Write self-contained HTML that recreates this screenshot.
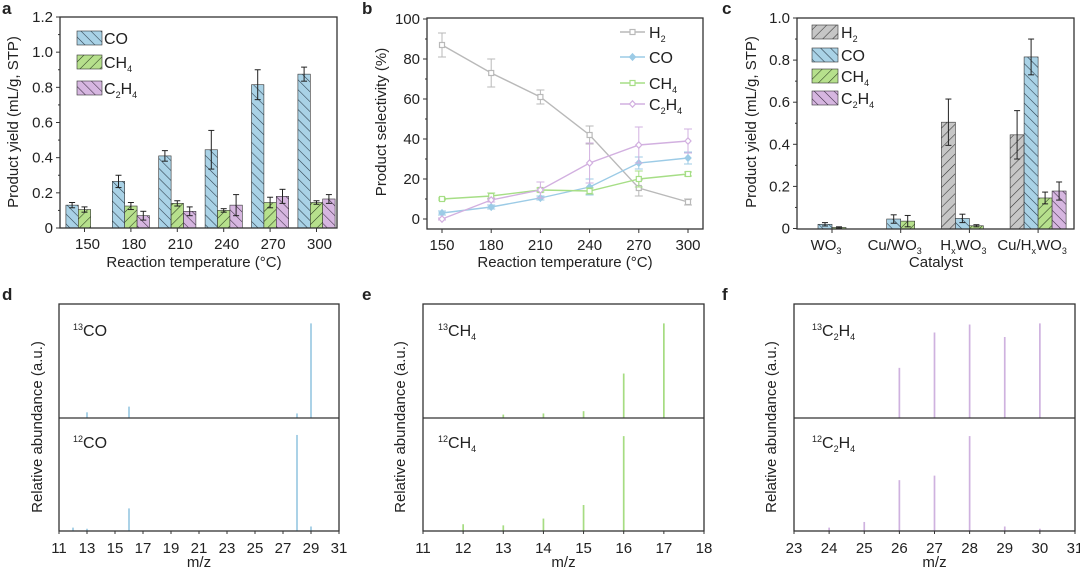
<!DOCTYPE html>
<html><head><meta charset="utf-8">
<style>
html,body{margin:0;padding:0;background:#fff;}
svg{display:block;font-family:"Liberation Sans",Arial,sans-serif;}
text{fill:#222;}
</style></head>
<body>
<svg id="fig" width="1080" height="570" viewBox="0 0 1080 570">
<defs>
<pattern id="hb" width="7" height="7" patternUnits="userSpaceOnUse" patternTransform="rotate(-45)"><rect width="7" height="7" fill="#a9d2e6"/><line x1="0" y1="0" x2="0" y2="7" stroke="#2a3a48" stroke-width="1.1"/></pattern>
<pattern id="hg" width="7" height="7" patternUnits="userSpaceOnUse" patternTransform="rotate(45)"><rect width="7" height="7" fill="#b6e08c"/><line x1="0" y1="0" x2="0" y2="7" stroke="#2a3a20" stroke-width="1.1"/></pattern>
<pattern id="hp" width="7" height="7" patternUnits="userSpaceOnUse" patternTransform="rotate(-45)"><rect width="7" height="7" fill="#d6b6e0"/><line x1="0" y1="0" x2="0" y2="7" stroke="#3a2a40" stroke-width="1.1"/></pattern>
<pattern id="hh" width="7" height="7" patternUnits="userSpaceOnUse" patternTransform="rotate(45)"><rect width="7" height="7" fill="#c6c6c6"/><line x1="0" y1="0" x2="0" y2="7" stroke="#333" stroke-width="1.1"/></pattern>
</defs>
</svg>
<script>
// ---- Panel a data ----
const aCats = ["150","180","210","240","270","300"];
const aCO = [0.13,0.265,0.41,0.445,0.815,0.875];
const aCOerr = [0.015,0.035,0.03,0.11,0.085,0.04];
const aCH4 = [0.105,0.125,0.14,0.1,0.145,0.145];
const aCH4err = [0.015,0.02,0.015,0.01,0.03,0.01];
const aC2H4 = [0,0.07,0.095,0.13,0.18,0.165];
const aC2H4err = [0,0.025,0.025,0.06,0.04,0.025];
const aTicks = [0,0.2,0.4,0.6,0.8,1.0,1.2];
const aTickLabels = ["0","0.2","0.4","0.6","0.8","1.0","1.2"];
// ---- Panel b data ----
const bTemps = [150,180,210,240,270,300];
const bH2 = [87,73,61,42,15.5,8.5];
const bH2err = [6,7,3.5,4.5,4,1.5];
const bCO = [3,6,10.5,16,28,30.5];
const bCOerr = [1,1,1,4,3,3];
const bCH4 = [10,11.5,14.5,14,20,22.5];
const bCH4err = [0.5,1.5,1,1.5,4,1];
const bC2H4 = [0,9.5,14.5,28,37,39];
const bC2H4err = [0.5,1,4,10,9,6];
const bYTicks = [0,20,40,60,80,100];
// ---- Panel c data ----
const cCats = ["WO3","Cu/WO3","HxWO3","Cu/HxWO3"];
const cH2 = [0,0,0.505,0.445];
const cH2err = [0,0,0.11,0.115];
const cCO = [0.02,0.045,0.048,0.815];
const cCOerr = [0.008,0.02,0.02,0.085];
const cCH4 = [0.005,0.035,0.013,0.145];
const cCH4err = [0.003,0.027,0.005,0.028];
const cC2H4 = [0,0,0,0.178];
const cC2H4err = [0,0,0,0.043];
const cTicks = [0,0.2,0.4,0.6,0.8,1.0];
// ---- Panel d data ----
const dMz = [12,13,16,28,29];
const d13CO = [0,5,10,4,83];
const d12CO = [3,2,20,85,4];
const dTicks = [11,13,15,17,19,21,23,25,27,29,31];
// ---- Panel e data ----
const eMz = [12,13,14,15,16,17];
const e13CH4 = [0,3,4,6,39,83];
const e12CH4 = [6,5,11,23,84,0];
const eTicks = [11,12,13,14,15,16,17,18];
// ---- Panel f data ----
const fMz = [24,25,26,27,28,29,30];
const f13C2H4 = [0,0,44,75,82,71,83];
const f12C2H4 = [3,8,45,49,84,4,2];
const fTicks = [23,24,25,26,27,28,29,30,31];

const svg = document.getElementById('fig');
const NS = 'http://www.w3.org/2000/svg';
const FS = 15;
function el(tag, attrs, parent){const e=document.createElementNS(NS,tag);for(const k in attrs)e.setAttribute(k,attrs[k]);(parent||svg).appendChild(e);return e;}
function txt(x,y,s,size,anchor,parent,extra){const t=el('text',Object.assign({x:x,y:y,'font-size':size,'text-anchor':anchor||'middle'},extra||{}),parent);t.innerHTML=s;return t;}
function frame(g,x0,y0,x1,y1){const r=el('rect',{x:x0,y:y0,width:x1-x0,height:y1-y0,fill:'none',stroke:'#333','stroke-width':1.3},g);}
function errbar(g,x,y1,y2,color,w){el('line',{x1:x,x2:x,y1:y1,y2:y2,stroke:color,'stroke-width':1},g);el('line',{x1:x-w,x2:x+w,y1:y1,y2:y1,stroke:color,'stroke-width':1},g);el('line',{x1:x-w,x2:x+w,y1:y2,y2:y2,stroke:color,'stroke-width':1},g);}

[['a',2,14],['b',362,14],['c',722,14],['d',2,300],['e',362,300],['f',722,300]].forEach(p=>{const t=txt(p[1],p[2],p[0],17,'start',svg,{'font-weight':'bold'});});

// ===== Panel a =====
(function(){
const g=el('g',{});
const X0=60,X1=337,Y0=17,Y1=228;
const yS=v=>Y1-v*(Y1-Y0)/1.2;
const xC=i=>84.5+i*46.4;
const bw=12.4;
aTicks.forEach((v,i)=>{el('line',{x1:X0,x2:X0-4,y1:yS(v),y2:yS(v),stroke:'#333'},g);if(i<aTicks.length-1)el('line',{x1:X0,x2:X0-2,y1:yS(v+0.1),y2:yS(v+0.1),stroke:'#333'},g);const t=txt(X0-7,yS(v)+5,aTickLabels[i],FS,'end',g);});
const series=[[aCO,aCOerr,'url(#hb)','co'],[aCH4,aCH4err,'url(#hg)','ch4'],[aC2H4,aC2H4err,'url(#hp)','c2h4']];
aCats.forEach((c,i)=>{
 series.forEach((s,k)=>{const v=s[0][i];if(v<=0)return;const x=xC(i)-1.5*bw+k*bw;
  const r=el('rect',{x:x,y:yS(v),width:bw,height:Y1-yS(v),fill:s[2],stroke:'#333','stroke-width':0.6},g);
  
  errbar(g,x+bw/2,yS(v+s[1][i]),yS(v-s[1][i]),'#222',3);});
 el('line',{x1:xC(i),x2:xC(i),y1:Y1,y2:Y1+4,stroke:'#333'},g);
 const t=txt(xC(i)+3,Y1+21,c,FS,'middle',g);
});
frame(g,X0,Y0,X1,Y1);
const yt=txt(0,0,'Product yield (mL/g, STP)',FS,'middle',g,{transform:'translate(18,122) rotate(-90)'});
const xt=txt(194,267,'Reaction temperature (°C)',FS,'middle',g);
[['url(#hb)','CO',38],['url(#hg)','CH<tspan font-size="9" dy="4">4</tspan>',62],['url(#hp)','C<tspan font-size="9" dy="4">2</tspan><tspan dy="-4">H</tspan><tspan font-size="9" dy="4">4</tspan>',88]].forEach(l=>{
 const r=el('rect',{x:77,y:l[2]-7,width:25,height:14,fill:l[0],stroke:'#333','stroke-width':0.6},g);
 const t=txt(104,l[2]+6,l[1],16,'start',g);});
})();

// ===== Panel b =====
(function(){
const g=el('g',{});
const X0=427,X1=703,Y0=18,Y1=229;
const yS=v=>219-v*2.0;
const xS=t=>442+(t-150)*(688-442)/150;
bYTicks.forEach((v,i)=>{el('line',{x1:X0,x2:X0-4,y1:yS(v),y2:yS(v),stroke:'#333'},g);if(v<100)el('line',{x1:X0,x2:X0-2,y1:yS(v+10),y2:yS(v+10),stroke:'#333'},g);const t=txt(X0-7,yS(v)+5,String(v),FS,'end',g);});
bTemps.forEach(tp=>{el('line',{x1:xS(tp),x2:xS(tp),y1:Y1,y2:Y1+4,stroke:'#333'},g);const t=txt(xS(tp),Y1+21,String(tp),FS,'middle',g);});
const series=[[bH2,bH2err,'#b9b9b9','sq','h2'],[bCO,bCOerr,'#9ccbe6','di','co'],[bCH4,bCH4err,'#a6de86','sq','ch4'],[bC2H4,bC2H4err,'#d2b0e0','di','c2h4']];
series.forEach(s=>{
 const pts=bTemps.map((t,i)=>xS(t)+','+yS(s[0][i])).join(' ');
 const pl=el('polyline',{points:pts,fill:'none',stroke:s[2],'stroke-width':1.4},g);
 bTemps.forEach((t,i)=>{const x=xS(t),y=yS(s[0][i]);errbar(g,x,yS(s[0][i]+s[1][i]),yS(s[0][i]-s[1][i]),s[2],4);
  let m;if(s[3]==='sq')m=el('rect',{x:x-2.5,y:y-2.5,width:5,height:5,fill:'#fff',stroke:s[2],'stroke-width':1.2},g);else m=el('polygon',{points:`${x},${y-3.2} ${x+3},${y} ${x},${y+3.2} ${x-3},${y}`,fill:s[4]==='co'?s[2]:'#fff',stroke:s[2],'stroke-width':1.2},g);
  });
});
frame(g,X0,Y0,X1,Y1);
const yt=txt(0,0,'Product selectivity (%)',FS,'middle',g,{transform:'translate(386,122) rotate(-90)'});
const xt=txt(565,267,'Reaction temperature (°C)',FS,'middle',g);
[[series[0],'H<tspan font-size="9" dy="4">2</tspan>',32],[series[1],'CO',57],[series[2],'CH<tspan font-size="9" dy="4">4</tspan>',83],[series[3],'C<tspan font-size="9" dy="4">2</tspan><tspan dy="-4">H</tspan><tspan font-size="9" dy="4">4</tspan>',104]].forEach(l=>{
 const s=l[0],y=l[2];el('line',{x1:620,x2:645,y1:y,y2:y,stroke:s[2],'stroke-width':1.4},g);
 if(s[3]==='sq')el('rect',{x:630,y:y-2.5,width:5,height:5,fill:'#fff',stroke:s[2],'stroke-width':1.2},g);else el('polygon',{points:`632.5,${y-3.2} 635.5,${y} 632.5,${y+3.2} 629.5,${y}`,fill:s[4]==='co'?s[2]:'#fff',stroke:s[2],'stroke-width':1.2},g);
 const t=txt(649,y+6,l[1],16,'start',g);});
})();

// ===== Panel c =====
(function(){
const g=el('g',{});
const X0=797,X1=1074,Y0=18,Y1=229;
const yS=v=>228.5-v*210.5;
const xC=i=>832+i*68.7;
const bw=14;
const labs=['WO<tspan font-size="9" dy="4">3</tspan>','Cu/WO<tspan font-size="9" dy="4">3</tspan>','H<tspan font-size="9" dy="4">x</tspan><tspan dy="-4">WO</tspan><tspan font-size="9" dy="4">3</tspan>','Cu/H<tspan font-size="9" dy="4">x</tspan><tspan dy="-4">WO</tspan><tspan font-size="9" dy="4">3</tspan>'];
cTicks.forEach((v,i)=>{el('line',{x1:X0,x2:X0-4,y1:yS(v),y2:yS(v),stroke:'#333'},g);if(v<1)el('line',{x1:X0,x2:X0-2,y1:yS(v+0.1),y2:yS(v+0.1),stroke:'#333'},g);const t=txt(X0-7,yS(v)+5,v===0?'0':v.toFixed(1),FS,'end',g);});
const series=[[cH2,cH2err,'url(#hh)','h2'],[cCO,cCOerr,'url(#hb)','co'],[cCH4,cCH4err,'url(#hg)','ch4'],[cC2H4,cC2H4err,'url(#hp)','c2h4']];
cCats.forEach((c,i)=>{
 series.forEach((s,k)=>{const v=s[0][i];if(v<=0)return;const x=xC(i)-2*bw+k*bw;
  const r=el('rect',{x:x,y:yS(v),width:bw,height:Y1-yS(v),fill:s[2],stroke:'#333','stroke-width':0.6},g);
  
  errbar(g,x+bw/2,yS(v+s[1][i]),yS(v-s[1][i]),'#222',3);});
 el('line',{x1:xC(i),x2:xC(i),y1:Y1,y2:Y1+4,stroke:'#333'},g);
 const t=txt(xC(i)-6,Y1+21,labs[i],FS,'middle',g);
});
frame(g,X0,Y0,X1,Y1);
const yt=txt(0,0,'Product yield (mL/g, STP)',FS,'middle',g,{transform:'translate(756,122) rotate(-90)'});
const xt=txt(936,267,'Catalyst',FS,'middle',g);
[['url(#hh)','H<tspan font-size="9" dy="4">2</tspan>',32],['url(#hb)','CO',55],['url(#hg)','CH<tspan font-size="9" dy="4">4</tspan>',76],['url(#hp)','C<tspan font-size="9" dy="4">2</tspan><tspan dy="-4">H</tspan><tspan font-size="9" dy="4">4</tspan>',98]].forEach(l=>{
 const r=el('rect',{x:812,y:l[2]-7,width:26,height:14,fill:l[0],stroke:'#333','stroke-width':0.6},g);
 const t=txt(841,l[2]+6,l[1],16,'start',g);});
})();

// ===== Mass spectra panels =====
function spectrum(id,X0,X1,xmin,xmax,mz,top,bot,ticks,color,labTop,labBot,ytx,labX){
 const g=el('g',{});
 const Y0=304,YM=418,Y1=531;
 const xS=v=>X0+(v-xmin)*(X1-X0)/(xmax-xmin);
 mz.forEach((m,i)=>{
  if(top[i]>0){const b=el('line',{x1:xS(m),x2:xS(m),y1:YM,y2:YM-top[i]*(YM-Y0)/100,stroke:color,'stroke-width':1.7},g);}
  if(bot[i]>0){const b=el('line',{x1:xS(m),x2:xS(m),y1:Y1,y2:Y1-bot[i]*(Y1-YM)/100,stroke:color,'stroke-width':1.7},g);}
 });
 frame(g,X0,Y0,X1,Y1);
 const mid=el('line',{x1:X0,x2:X1,y1:YM,y2:YM,stroke:'#333','stroke-width':1.3},g);
 ticks.forEach(v=>{el('line',{x1:xS(v),x2:xS(v),y1:Y1,y2:Y1+3,stroke:'#333'},g);const t=txt(xS(v),Y1+22,String(v),FS,'middle',g);});
 const xt=txt((X0+X1)/2,567,'m/z',FS,'middle',g);
 const yt=txt(0,0,'Relative abundance (a.u.)',FS,'middle',g,{transform:`translate(${ytx},427) rotate(-90)`});
 const a=txt(labX,336,labTop,16,'start',g);
 const b=txt(labX,448,labBot,16,'start',g);
}
const sup=s=>`<tspan font-size="9" dy="-6">${s}</tspan><tspan dy="6">`;
spectrum('d',59,339,11,31,dMz,d13CO,d12CO,dTicks,'#9ccbe3',sup('13')+'CO</tspan>',sup('12')+'CO</tspan>',42,73);
spectrum('e',423,704,11,18,eMz,e13CH4,e12CH4,eTicks,'#a6dc82',sup('13')+'CH</tspan><tspan font-size="9" dy="4">4</tspan>',sup('12')+'CH</tspan><tspan font-size="9" dy="4">4</tspan>',405,438);
spectrum('f',794,1075,23,31,fMz,f13C2H4,f12C2H4,fTicks,'#cfb2df',sup('13')+'C</tspan><tspan font-size="9" dy="4">2</tspan><tspan dy="-4">H</tspan><tspan font-size="9" dy="4">4</tspan>',sup('12')+'C</tspan><tspan font-size="9" dy="4">2</tspan><tspan dy="-4">H</tspan><tspan font-size="9" dy="4">4</tspan>',776,812);
</script>
</body></html>
